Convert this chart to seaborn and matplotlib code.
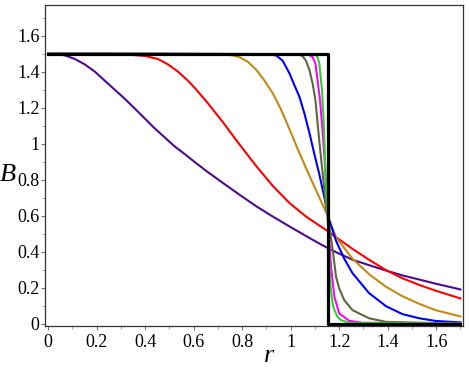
import pandas as pd
import seaborn as sns
import matplotlib.pyplot as plt
from matplotlib.ticker import MultipleLocator, FormatStrFormatter

# values
purple_r = [0, 0.041, 0.069, 0.110, 0.151, 0.192, 0.233, 0.274, 0.315, 0.357, 0.398, 0.439, 0.480, 0.521,
            0.563, 0.604, 0.652, 0.720, 0.789, 0.858, 0.926, 0.995, 1.063, 1.118, 1.146, 1.187, 1.255,
            1.323, 1.393, 1.461, 1.530, 1.598, 1.700]
purple_B = [1.5, 1.497, 1.49, 1.47, 1.44, 1.40, 1.35, 1.30, 1.25, 1.195, 1.14, 1.085, 1.035, 0.985,
            0.942, 0.898, 0.848, 0.782, 0.716, 0.652, 0.595, 0.54, 0.487, 0.445, 0.425, 0.397, 0.355,
            0.325, 0.295, 0.268, 0.245, 0.222, 0.19]

red_r = [0, 0.26, 0.33, 0.398, 0.453, 0.494, 0.535, 0.576, 0.604, 0.652, 0.720, 0.789, 0.858, 0.926,
         0.995, 1.063, 1.118, 1.146, 1.187, 1.255, 1.323, 1.393, 1.461, 1.530, 1.598, 1.700]
red_B = [1.5, 1.497, 1.494, 1.487, 1.47, 1.44, 1.40, 1.35, 1.31, 1.235, 1.12, 0.995, 0.875, 0.765,
         0.67, 0.595, 0.545, 0.52, 0.48, 0.415, 0.355, 0.297, 0.252, 0.215, 0.183, 0.14]

gold_r = [0, 0.72, 0.761, 0.789, 0.823, 0.858, 0.892, 0.926, 0.960, 0.995, 1.029, 1.063, 1.098, 1.132,
          1.155, 1.187, 1.255, 1.323, 1.393, 1.461, 1.530, 1.598, 1.700]
gold_B = [1.5, 1.497, 1.49, 1.48, 1.455, 1.41, 1.35, 1.28, 1.19, 1.08, 0.97, 0.865, 0.76, 0.66,
          0.59, 0.48, 0.36, 0.275, 0.205, 0.152, 0.11, 0.075, 0.04]

blue_r = [0, 0.899, 0.94, 0.967, 0.995, 1.015, 1.036, 1.056, 1.077, 1.097, 1.118, 1.139, 1.155, 1.187,
          1.221, 1.255, 1.323, 1.393, 1.461, 1.530, 1.598, 1.700]
blue_B = [1.5, 1.497, 1.49, 1.46, 1.39, 1.325, 1.26, 1.17, 1.06, 0.945, 0.83, 0.70, 0.59, 0.46,
          0.36, 0.28, 0.17, 0.097, 0.053, 0.03, 0.015, 0.007]

olive_r = [0, 1.029, 1.049, 1.063, 1.077, 1.091, 1.102, 1.111, 1.122, 1.132, 1.146, 1.159, 1.173,
           1.187, 1.200, 1.221, 1.255, 1.323, 1.393, 1.700]
olive_B = [1.5, 1.497, 1.486, 1.46, 1.41, 1.33, 1.24, 1.11, 0.96, 0.83, 0.65, 0.54, 0.41,
           0.26, 0.195, 0.13, 0.075, 0.03, 0.01, 0.0]

magenta_r = [0, 1.070, 1.091, 1.102, 1.111, 1.121, 1.129, 1.139, 1.155, 1.166, 1.180, 1.200, 1.241,
             1.296, 1.700]
magenta_B = [1.5, 1.497, 1.48, 1.445, 1.35, 1.24, 1.11, 0.93, 0.56, 0.32, 0.15, 0.057, 0.016,
             0.005, 0.0]

green_r = [0, 1.098, 1.111, 1.118, 1.125, 1.129, 1.135, 1.139, 1.146, 1.155, 1.162, 1.166, 1.173,
           1.180, 1.193, 1.207, 1.241, 1.700]
green_B = [1.5, 1.497, 1.48, 1.445, 1.35, 1.30, 1.15, 1.02, 0.74, 0.52, 0.26, 0.186, 0.11,
           0.075, 0.038, 0.02, 0.005, 0.0]

step_r = [0, 1.1547, 1.1547, 1.70]
step_B = [1.5, 1.5, 0.0, 0.0]

curves = [
    (purple_r, purple_B, "#4B0C8C"),
    (red_r, red_B, "#FF0000"),
    (gold_r, gold_B, "#C08A14"),
    (blue_r, blue_B, "#0000FF"),
    (olive_r, olive_B, "#5A6B3A"),
    (magenta_r, magenta_B, "#FF00FF"),
    (green_r, green_B, "#33CC33"),
]

plt.rcParams["font.family"] = ["Liberation Serif", "DejaVu Serif"]

fig = plt.figure(figsize=(4.69, 3.69), dpi=100)
ax = fig.add_axes([0.096, 0.1165, 0.891, 0.87])

for r, b, c in curves:
    df = pd.DataFrame({"r": r, "B": b})
    sns.lineplot(data=df, x="r", y="B", color=c, linewidth=1.5, sort=False, estimator=None, ax=ax)

step = pd.DataFrame({"r": step_r, "B": step_B})
sns.lineplot(data=step, x="r", y="B", color="black", linewidth=2.3, sort=False, estimator=None, ax=ax)

ax.set_xlim(-0.013, 1.71)
ax.set_ylim(-0.013, 1.77)

ax.xaxis.set_major_locator(MultipleLocator(0.2))
ax.xaxis.set_minor_locator(MultipleLocator(0.1))
ax.yaxis.set_major_locator(MultipleLocator(0.2))
ax.yaxis.set_minor_locator(MultipleLocator(0.1))
ax.xaxis.set_major_formatter(FormatStrFormatter("%g"))
ax.yaxis.set_major_formatter(FormatStrFormatter("%g"))
ax.tick_params(axis="both", which="major", labelsize=13, length=3, width=0.8, color="#777777", direction="out")
ax.tick_params(axis="both", which="minor", length=2, width=0.6, color="#999999", direction="out")
ax.tick_params(axis="x", pad=3)
ax.tick_params(axis="y", pad=1)

for s in ax.spines.values():
    s.set_color("#333333")
    s.set_linewidth(0.9)

ax.set_xlabel("r", fontsize=19, fontstyle="italic", va="baseline", ha="center")
ax.set_ylabel("B", fontsize=19, fontstyle="italic", rotation=0, va="center", ha="center")
ax.xaxis.set_label_coords(0.536, -0.112)
ax.yaxis.set_label_coords(-0.088, 0.47)

plt.savefig("out.png", dpi=100)
